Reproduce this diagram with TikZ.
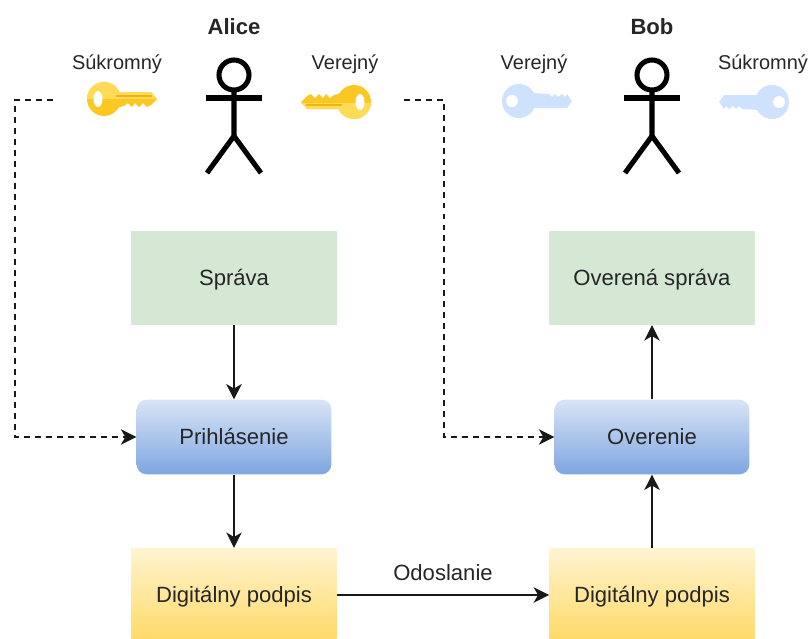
\documentclass[tikz,border=0pt]{standalone}
\usepackage{fontspec}
\setmainfont{Liberation Sans}
\usetikzlibrary{arrows.meta}
\definecolor{keygold}{HTML}{FBC723}
\definecolor{keylight}{HTML}{FFDB58}
\definecolor{keyline}{HTML}{F2B310}
\definecolor{keyblue}{HTML}{CFE2FD}
\newcommand{\goldoutline}{(0,0) circle [radius=17] (8,-7) -- (47,-7) -- (53,0) -- (47,6) -- (43,8) -- (39,4) -- (35,8) -- (31,4) -- (28,8) -- (24,4) -- (20,7) -- (12,9) -- cycle}
\newcommand{\blueoutline}{(0,0) circle [radius=17] (8,-7) -- (48,-7) -- (53,0) -- (48,7) -- (46,4) -- (43,7) -- (39,4) -- (36,7) -- (33,4) -- (30,7) -- (12,8) -- cycle}
\tikzset{
    >={Stealth[length=11pt,width=11pt,inset=3.2pt]},
    every node/.style={text=black!85, font=\fontsize{15.7}{18}\selectfont},
    link/.style={->, line width=1.1pt, black!90},
    signal/.style={link, dash pattern=on 4.2pt off 3.6pt},
    keylabel/.style={font=\fontsize{14.2}{17}\selectfont},
    person/.style={font=\bfseries\fontsize{15.7}{18}\selectfont},
    plainbox/.style={minimum width=146pt, minimum height=66.6pt, inner sep=0pt, text height=14pt, text depth=3pt, fill=#1},
    signbox/.style={minimum width=138.5pt, minimum height=53pt, inner sep=0pt, text height=14pt, text depth=3pt, rounded corners=7pt, top color=#1!30!white, bottom color=#1},
    sealbox/.style={minimum width=146pt, minimum height=66.6pt, inner sep=0pt, text height=14pt, text depth=3pt, top color=#1!30!white, bottom color=#1},
    goldkey/.pic={
        \fill[keygold] \goldoutline;
        \begin{scope}
            \clip (-20,-20) rectangle (60,-1);
            \fill[keylight] \goldoutline;
        \end{scope}
        \fill[keyline] (12,-4) rectangle (48,-2);
        \fill[white] (-6,0) ellipse [x radius=4.5, y radius=8];
    },
    bluekey/.pic={
        \fill[keyblue] \blueoutline;
        \fill[white] (-7,0) circle [radius=6];
    },
    stickman/.pic={
        \draw[line width=3.6pt] (0,-27) circle [radius=15];
        \draw[line width=3.6pt] (-28,-4) -- (28,-4);
        \draw[line width=3.6pt] (0,-12) -- (0,34) (-27,71) -- (0,34) -- (27,71);
    }
}
\definecolor{sealgold}{HTML}{FFD966}
\definecolor{signblue}{HTML}{7EA6E0}
\definecolor{notegreen}{HTML}{D5E8D4}
\begin{document}
\begin{tikzpicture}[x=0.025cm, y=-0.025cm]
    \useasboundingbox (0,0) rectangle (811,639);

    \node[person] (alice) at (234,27) {Alice};
    \node[person] (bob) at (652,27) {Bob};
    \pic at (234,102) {stickman};
    \pic at (652,102) {stickman};

    \node[keylabel] (privA) at (117,64) {Súkromný};
    \node[keylabel] (pubA) at (345,64) {Verejný};
    \node[keylabel] (pubB) at (534,64) {Verejný};
    \node[keylabel] (privB) at (763,64) {Súkromný};
    \pic at (104,99) {goldkey};
    \pic[rotate=180] at (354,102) {goldkey};
    \pic[yscale=-1] at (519,101) {bluekey};
    \pic[xscale=-1] at (772,102) {bluekey};

    \node[plainbox=notegreen] (msg) at (234,278) {Správa};
    \node[signbox=signblue] (sign) at (234,437) {Prihlásenie};
    \node[sealbox=sealgold] (sigA) at (234,595) {Digitálny podpis};
    \node[plainbox=notegreen] (okmsg) at (652,278) {Overená správa};
    \node[signbox=signblue] (check) at (652,437) {Overenie};
    \node[sealbox=sealgold] (sigB) at (652,595) {Digitálny podpis};

    \coordinate (keyA) at (53,100);
    \coordinate (keyB) at (404,100);

    \draw[link] (msg) -- (sign);
    \draw[link] (sign) -- (sigA);
    \draw[link] (sigA) -- node[above=6pt] (send) {Odoslanie} (sigB);
    \draw[link] (sigB) -- (check);
    \draw[link] (check) -- (okmsg);
    \draw[signal] (keyA) -- (15,100) -- (15,437) -- (sign);
    \draw[signal] (keyB) -- (444,100) -- (444,437) -- (check);
\end{tikzpicture}
\end{document}
